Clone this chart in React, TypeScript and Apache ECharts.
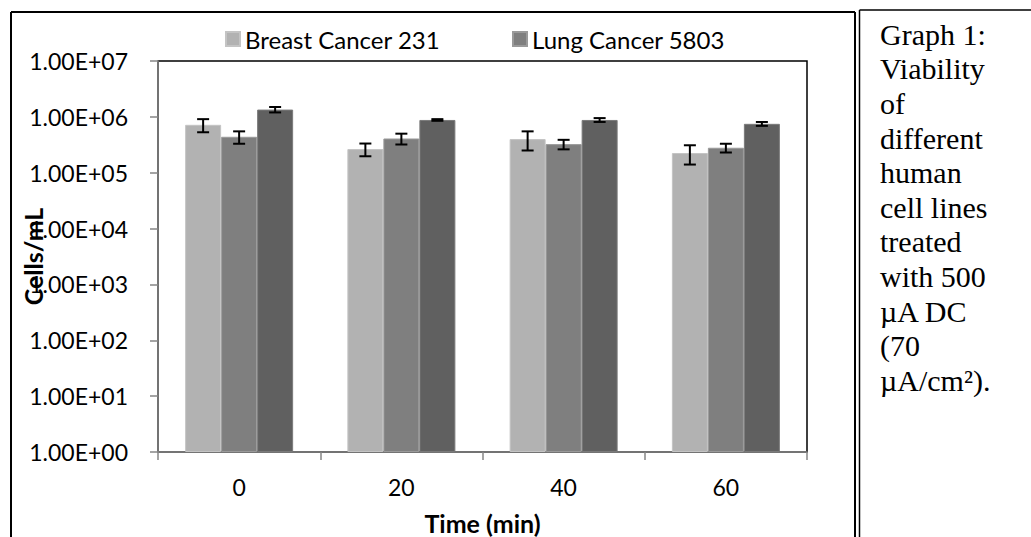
import React, { useEffect, useRef } from "react";
import * as echarts from "echarts";

// Sampling times (min) on the category axis
const categories = ["0", "20", "40", "60"];

// Cell counts (cells/mL) and their error margins
const breast231 = [7.2e5, 2.65e5, 4.0e5, 2.25e5];
const breast231Err = [1.9e5, 6.8e4, 1.5e5, 8.5e4];

const lung5803 = [4.4e5, 4.1e5, 3.25e5, 2.8e5];
const lung5803Err = [1.1e5, 9.0e4, 6.3e4, 5.0e4];

const thirdLine = [1.35e6, 8.8e5, 8.8e5, 7.5e5];
const thirdLineErr = [1.5e5, 3.0e4, 7.0e4, 6.0e4];

// Log-axis tick labels, indexed by decade exponent
const yTickLabels = [
  "1.00E+00",
  "1.00E+01",
  "1.00E+02",
  "1.00E+03",
  "1.00E+04",
  "1.00E+05",
  "1.00E+06",
  "1.00E+07",
];

const captionLines = [
  "Graph 1:",
  "Viability",
  "of",
  "different",
  "human",
  "cell lines",
  "treated",
  "with 500",
  "µA DC",
  "(70",
  "µA/cm²).",
];

const BAR_W = 36;
const SANS = "Lato, 'Noto Sans', sans-serif";

function errorSeries(values: number[], errs: number[], offset: number) {
  return {
    type: "custom",
    z: 10,
    silent: true,
    data: values.map((v, i) => [i, v, errs[i]]),
    encode: { x: 0, y: 1 },
    renderItem: (_params: any, api: any) => {
      const i = api.value(0);
      const v = api.value(1);
      const e = api.value(2);
      const top = api.coord([i, v + e]);
      const bot = api.coord([i, v - e]);
      const x = top[0] + offset;
      const style = { stroke: "#000", lineWidth: 2 };
      return {
        type: "group",
        children: [
          { type: "line", shape: { x1: x, y1: top[1], x2: x, y2: bot[1] }, style },
          { type: "line", shape: { x1: x - 6, y1: top[1], x2: x + 6, y2: top[1] }, style },
          { type: "line", shape: { x1: x - 6, y1: bot[1], x2: x + 6, y2: bot[1] }, style },
        ],
      };
    },
  };
}

export default function App() {
  const ref = useRef<HTMLDivElement>(null);

  useEffect(() => {
    if (!ref.current) return;
    const chart = echarts.init(ref.current, undefined, { renderer: "svg" });

    const legendBase = {
      icon: "rect",
      itemWidth: 14,
      itemHeight: 14,
      top: 22,
      textStyle: { fontFamily: SANS, fontSize: 24, color: "#000" },
    };

    chart.setOption({
      animation: false,
      backgroundColor: "#fff",
      legend: [
        { ...legendBase, left: 220, data: ["Breast Cancer 231"] },
        { ...legendBase, left: 507, data: ["Lung Cancer 5803"] },
      ],
      grid: {
        left: 158,
        top: 61,
        right: 224,
        bottom: 85,
        containLabel: false,
        outerBoundsMode: "none",
        show: true,
        borderColor: "#000",
        borderWidth: 1.5,
        backgroundColor: "#fff",
      },
      xAxis: {
        type: "category",
        data: categories,
        name: "Time (min)",
        nameLocation: "middle",
        nameGap: 58,
        nameMoveOverlap: false,
        nameTextStyle: { fontFamily: SANS, fontSize: 25, fontWeight: "bold", color: "#000" },
        axisLine: { lineStyle: { color: "#868686", width: 1.5 } },
        axisTick: { show: true, length: 8, lineStyle: { color: "#868686", width: 1.5 } },
        axisLabel: { fontFamily: SANS, fontSize: 23, color: "#000", margin: 23 },
        splitLine: { show: false },
      },
      yAxis: {
        type: "log",
        logBase: 10,
        min: 1,
        max: 1e7,
        name: "Cells/mL",
        nameLocation: "middle",
        nameRotate: 90,
        nameGap: 113,
        nameMoveOverlap: false,
        nameTextStyle: { fontFamily: SANS, fontSize: 25, fontWeight: "bold", color: "#000" },
        axisLine: { show: true, lineStyle: { color: "#868686", width: 1.5 } },
        axisTick: { show: true, length: 8, lineStyle: { color: "#868686", width: 1.5 } },
        axisLabel: {
          fontFamily: SANS,
          fontSize: 23,
          color: "#000",
          margin: 30,
          formatter: (v: number) => yTickLabels[Math.round(Math.log10(v))] ?? "",
        },
        splitLine: { show: false },
      },
      series: [
        {
          name: "Breast Cancer 231",
          type: "bar",
          data: breast231,
          barWidth: BAR_W,
          barGap: "0%",
          itemStyle: { color: "#b2b2b2", borderColor: "#c4c4c4", borderWidth: 1 },
        },
        {
          name: "Lung Cancer 5803",
          type: "bar",
          data: lung5803,
          barWidth: BAR_W,
          barGap: "0%",
          itemStyle: { color: "#7f7f7f", borderColor: "#9a9a9a", borderWidth: 1 },
        },
        {
          name: "Series 3",
          type: "bar",
          data: thirdLine,
          barWidth: BAR_W,
          barGap: "0%",
          itemStyle: { color: "#606060", borderColor: "#7a7a7a", borderWidth: 1 },
        },
        errorSeries(breast231, breast231Err, -BAR_W),
        errorSeries(lung5803, lung5803Err, 0),
        errorSeries(thirdLine, thirdLineErr, BAR_W),
      ],
      graphic: [
        // chart frame
        { type: "line", shape: { x1: 11, y1: 12, x2: 855, y2: 12 }, style: { stroke: "#000", lineWidth: 2 } },
        { type: "line", shape: { x1: 11, y1: 12, x2: 11, y2: 537 }, style: { stroke: "#000", lineWidth: 2 } },
        { type: "line", shape: { x1: 855, y1: 12, x2: 855, y2: 537 }, style: { stroke: "#000", lineWidth: 2 } },
        // caption frame
        { type: "line", shape: { x1: 859.5, y1: 10, x2: 1031, y2: 10 }, style: { stroke: "#000", lineWidth: 1.5 } },
        { type: "line", shape: { x1: 859.5, y1: 10, x2: 859.5, y2: 537 }, style: { stroke: "#000", lineWidth: 1.5 } },
        {
          type: "text",
          x: 880,
          y: 17,
          style: {
            text: captionLines.join("\n"),
            font: "30px 'Liberation Serif', 'Times New Roman', serif",
            fill: "#000",
            lineHeight: 34.6,
            textAlign: "left",
            textVerticalAlign: "top",
          },
        },
      ],
    });

    return () => chart.dispose();
  }, []);

  return (
    <div
      ref={ref}
      style={{ position: "fixed", left: 0, top: 0, width: 1031, height: 537 }}
    />
  );
}
